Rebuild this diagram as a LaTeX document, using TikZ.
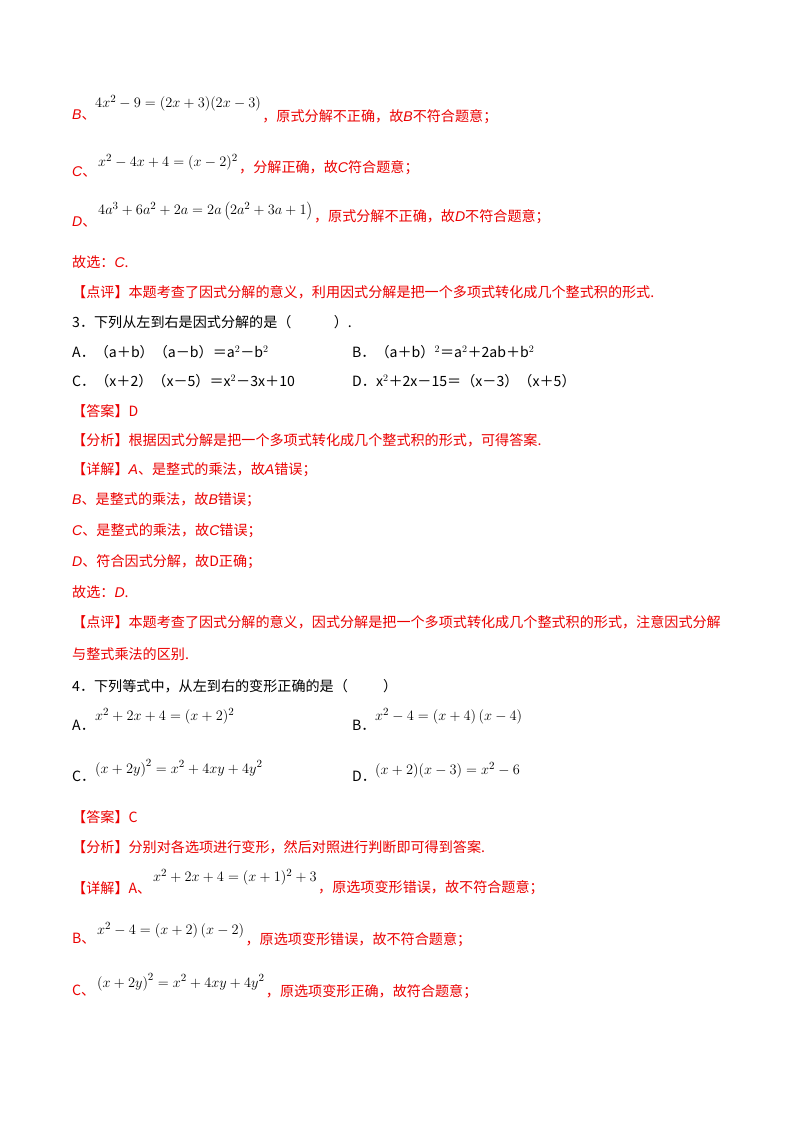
\documentclass[tikz,border=0pt]{standalone}
\usepackage{fontspec}
\setmainfont{Noto Sans CJK SC}
\newfontfamily\lat{Liberation Sans}
\newcommand{\iv}[1]{{\lat\itshape #1}}
\definecolor{rd}{RGB}{235,0,0}
\begin{document}
\begin{tikzpicture}[x=1pt,y=-1pt,
 t/.style={anchor=west,inner sep=0pt,font=\fontsize{14.1}{17}\selectfont},
 r/.style={t,text=rd},
 m/.style={anchor=west,inner sep=1pt,font=\fontsize{15.5}{18}\selectfont,text=black}]
\useasboundingbox (0,0) rectangle (800,1132);
\fill[white] (0,0) rectangle (800,1132);
% first block
\node[r] (b1) at (72,115) {\iv{B}、};
\node[m] (b1m) at (94,103) {$4x^2-9=(2x+3)(2x-3)$};
\node[r] (b1t) at (b1m.east |- 0,117) {，原式分解不正确，故\iv{B}不符合题意；};
\node[r] (c1) at (72,172) {\iv{C}、};
\node[m] (c1m) at (97,162) {$x^2-4x+4=(x-2)^2$};
\node[r] (c1t) at (c1m.east |- 0,168) {，分解正确，故\iv{C}符合题意；};
\node[r] (d1) at (72,222) {\iv{D}、};
\node[m] (d1m) at (97,211) {$4a^3+6a^2+2a=2a\left(2a^2+3a+1\right)$};
\node[r] (d1t) at (d1m.east |- 0,217) {，原式分解不正确，故\iv{D}不符合题意；};
\node[r] (g1) at (72,262) {故选：\iv{C}.};
\node[r] (p1) at (72,292) {【点评】本题考查了因式分解的意义，利用因式分解是把一个多项式转化成几个整式积的形式.};
% question 3
\node[t] (q3) at (72,322) {3．下列从左到右是因式分解的是（\hspace{3em}）.};
\node[t] (q3a) at (72,352) {A．（a＋b）（a－b）＝a$^2$－b$^2$};
\node[t] (q3b) at (352,352) {B．（a＋b）$^2$＝a$^2$＋2ab＋b$^2$};
\node[t] (q3c) at (72,381) {C．（x＋2）（x－5）＝x$^2$－3x＋10};
\node[t] (q3d) at (352,381) {D．x$^2$＋2x－15＝（x－3）（x＋5）};
\node[r] (a3) at (72,411) {【答案】D};
\node[r] (f3) at (72,440) {【分析】根据因式分解是把一个多项式转化成几个整式积的形式，可得答案.};
\node[r] (x3) at (72,470) {【详解】\iv{A}、是整式的乘法，故\iv{A}错误；};
\node[r] (x3b) at (72,500) {\iv{B}、是整式的乘法，故\iv{B}错误；};
\node[r] (x3c) at (72,531) {\iv{C}、是整式的乘法，故\iv{C}错误；};
\node[r] (x3d) at (72,562) {\iv{D}、符合因式分解，故D正确；};
\node[r] (g3) at (72,592) {故选：\iv{D}.};
\node[r] (p3) at (72,622) {【点评】本题考查了因式分解的意义，因式分解是把一个多项式转化成几个整式积的形式，注意因式分解};
\node[r] (p3b) at (72,654) {与整式乘法的区别.};
% question 4
\node[t] (q4) at (72,686) {4．下列等式中，从左到右的变形正确的是（\hspace{2.5em}）};
\node[t] (q4a) at (72,725) {A．};
\node[m] (q4am) at (94,716) {$x^2+2x+4=(x+2)^2$};
\node[t] (q4b) at (352,725) {B．};
\node[m] (q4bm) at (374,716) {$x^2-4=\left(x+4\right)\left(x-4\right)$};
\node[t] (q4c) at (72,776) {C．};
\node[m] (q4cm) at (94,768) {$\left(x+2y\right)^2=x^2+4xy+4y^2$};
\node[t] (q4d) at (352,776) {D．};
\node[m] (q4dm) at (374,770) {$(x+2)(x-3)=x^2-6$};
\node[r] (a4) at (72,817) {【答案】C};
\node[r] (f4) at (72,847) {【分析】分别对各选项进行变形，然后对照进行判断即可得到答案.};
\node[r] (x4) at (72,888) {【详解】A、};
\node[m] (x4m) at (152,877) {$x^2+2x+4=(x+1)^2+3$};
\node[r] (x4t) at (x4m.east |- 0,888) {，原选项变形错误，故不符合题意；};
\node[r] (x4b) at (72,939) {B、};
\node[m] (x4bm) at (96,930) {$x^2-4=\left(x+2\right)\left(x-2\right)$};
\node[r] (x4bt) at (x4bm.east |- 0,940) {，原选项变形错误，故不符合题意；};
\node[r] (x4c) at (72,991) {C、};
\node[m] (x4cm) at (96,982) {$\left(x+2y\right)^2=x^2+4xy+4y^2$};
\node[r] (x4ct) at (x4cm.east |- 0,992) {，原选项变形正确，故符合题意；};
\end{tikzpicture}
\end{document}
